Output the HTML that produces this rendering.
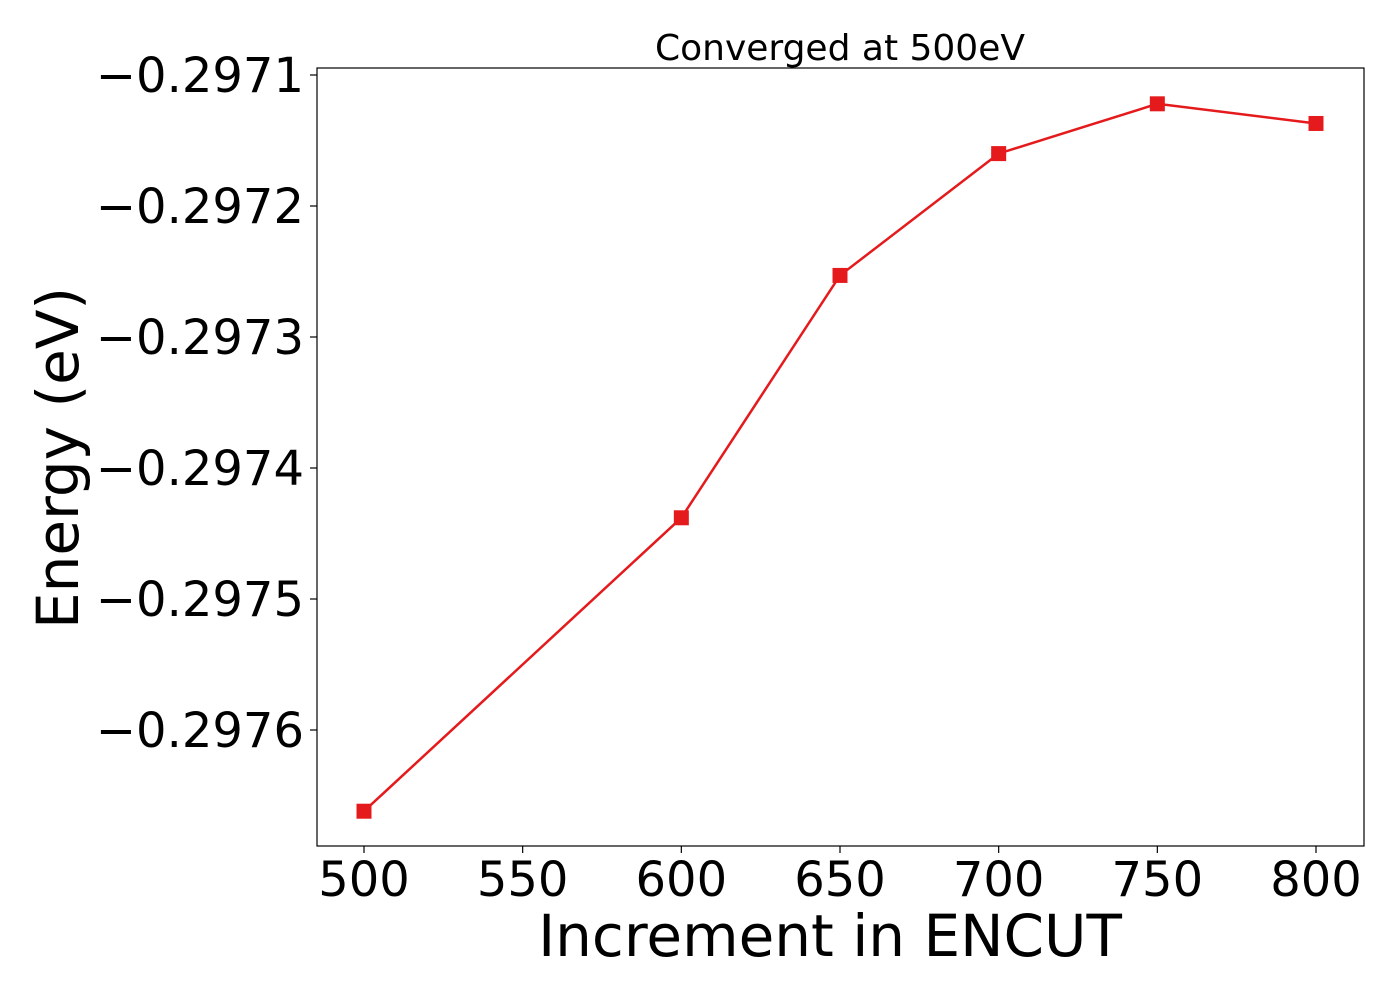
<!DOCTYPE html>
<html><head><meta charset="utf-8"><style>
body{margin:0;background:#fff}
text{font-family:"DejaVu Sans","Liberation Sans",sans-serif}
</style></head><body>
<svg id="chart" width="1400" height="1000" xmlns="http://www.w3.org/2000/svg">
<rect width="1400" height="1000" fill="#fff"/>
<text x="840" y="60" font-size="36" text-anchor="middle">Converged at 500eV</text>
<g id="axes"></g>
<rect x="317" y="68" width="1047" height="778" fill="none" stroke="#000" stroke-width="1.2"/>
<text x="830" y="956" font-size="58" text-anchor="middle">Increment in ENCUT</text>
<text transform="translate(78,458) rotate(-90)" font-size="58" text-anchor="middle">Energy (eV)</text>
</svg>
<script>
const xValues=[500,600,650,700,750,800];
const yValues=[-0.297662,-0.297438,-0.297253,-0.29716,-0.297122,-0.297137];
const xTicks=[500,550,600,650,700,750,800];
const yTicks=[-0.2971,-0.2972,-0.2973,-0.2974,-0.2975,-0.2976];
const yTickLabels=["\u22120.2971","\u22120.2972","\u22120.2973","\u22120.2974","\u22120.2975","\u22120.2976"];
const NS="http://www.w3.org/2000/svg";
const X=v=>364+(v-500)*(1316-364)/300;
const Y=v=>75+(-0.2971-v)/0.0001*131;
const g=document.getElementById('axes');
function mk(t,a){const e=document.createElementNS(NS,t);for(const k in a)e.setAttribute(k,a[k]);g.appendChild(e);return e;}
xTicks.forEach(v=>{
 const l=mk('line',{x1:X(v),x2:X(v),y1:846,y2:853,stroke:'#000','stroke-width':1.2});
 
 
 const t=mk('text',{x:X(v),y:896,'font-size':48,'text-anchor':'middle'});
 t.textContent=v;
 
 
});
yTicks.forEach((v,i)=>{
 const l=mk('line',{x1:310,x2:317,y1:Y(v),y2:Y(v),stroke:'#000','stroke-width':1.2});
 
 
 const t=mk('text',{x:304,y:Y(v)+17,'font-size':48,'text-anchor':'end'});
 t.textContent=yTickLabels[i];
 
 
});
const pl=mk('polyline',{points:xValues.map((x,i)=>X(x)+','+Y(yValues[i])).join(' '),fill:'none',stroke:'#e41a1c','stroke-width':2.5});


xValues.forEach((x,i)=>{
 const r=mk('rect',{x:X(x)-7.5,y:Y(yValues[i])-7.5,width:15,height:15,fill:'#e41a1c'});
 
 
});
</script>
</body></html>
